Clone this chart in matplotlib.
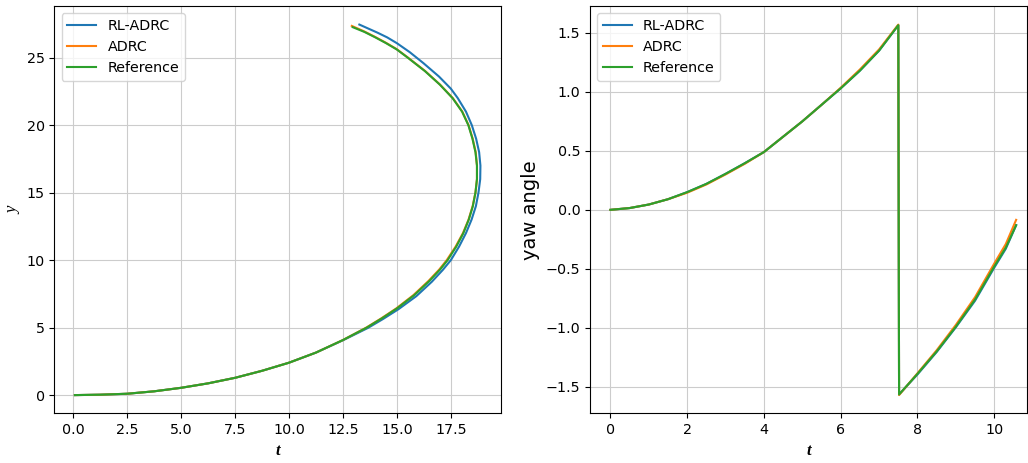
import matplotlib
matplotlib.use("Agg")
import matplotlib.pyplot as plt

# trajectory (x, y)
ref_x = [0.08, 1.25, 2.5, 3.75, 5.0, 6.25, 7.5, 8.75, 10.0, 11.25, 12.5, 13.6, 14.3, 15.0,
         15.8, 16.5, 17.0, 17.35, 17.75, 18.08, 18.33, 18.52, 18.64, 18.71, 18.71, 18.64,
         18.5, 18.31, 18.02, 17.58, 16.99, 16.3, 15.5, 15.0, 14.5, 14.0, 13.5, 12.95]
ref_y = [0.0, 0.03, 0.1, 0.28, 0.54, 0.87, 1.28, 1.8, 2.4, 3.15, 4.08, 5.0, 5.68, 6.42,
         7.4, 8.45, 9.3, 10.0, 11.0, 12.0, 13.0, 14.0, 15.0, 16.0, 17.0, 18.0,
         19.0, 20.0, 21.0, 22.0, 23.0, 24.0, 25.0, 25.6, 26.07, 26.5, 26.9, 27.26]

adrc_x = [0.08, 1.25, 2.5, 3.75, 5.0, 6.25, 7.5, 8.75, 10.0, 11.25, 12.5, 13.58, 14.27, 14.97,
          15.76, 16.46, 16.96, 17.31, 17.72, 18.06, 18.32, 18.51, 18.64, 18.71, 18.71, 18.65,
          18.51, 18.32, 18.03, 17.59, 17.0, 16.3, 15.49, 14.98, 14.47, 13.96, 13.45, 12.91]
adrc_y = [0.0, 0.03, 0.1, 0.28, 0.54, 0.87, 1.28, 1.8, 2.4, 3.15, 4.08, 5.0, 5.68, 6.42,
          7.4, 8.45, 9.3, 10.0, 11.0, 12.0, 13.0, 14.0, 15.0, 16.0, 17.0, 18.0,
          19.0, 20.0, 21.0, 22.0, 23.0, 24.02, 25.03, 25.64, 26.12, 26.56, 26.97, 27.35]

rl_x = [0.08, 1.25, 2.5, 3.75, 5.0, 6.25, 7.5, 8.75, 10.0, 11.25, 12.5, 13.65, 14.35, 15.07,
        15.9, 16.62, 17.13, 17.5, 17.88, 18.2, 18.46, 18.66, 18.78, 18.86, 18.87, 18.81,
        18.67, 18.47, 18.2, 17.82, 17.5, 16.95, 16.23, 15.6, 15.0, 14.55, 14.1, 13.26]
rl_y = [0.0, 0.03, 0.1, 0.28, 0.54, 0.87, 1.28, 1.8, 2.4, 3.15, 4.06, 4.97, 5.63, 6.36,
        7.33, 8.4, 9.28, 10.0, 11.0, 12.0, 13.0, 14.0, 15.0, 16.0, 17.0, 18.0,
        19.0, 20.0, 21.0, 22.0, 22.7, 23.6, 24.59, 25.4, 26.07, 26.5, 26.85, 27.45]

# yaw angle vs time
t = [0.0, 0.5, 1.0, 1.5, 2.0, 2.5, 3.0, 3.5, 4.0, 4.5, 5.0, 5.5, 6.0, 6.5, 7.0, 7.5,
     7.52, 8.0, 8.5, 9.0, 9.5, 10.0, 10.3, 10.57]
yaw_ref = [0.0, 0.015, 0.045, 0.09, 0.15, 0.22, 0.305, 0.395, 0.49, 0.62, 0.75, 0.89,
           1.03, 1.18, 1.35, 1.565, -1.565, -1.39, -1.2, -0.99, -0.76, -0.48, -0.32, -0.13]
yaw_adrc = [0.0, 0.015, 0.045, 0.09, 0.145, 0.215, 0.30, 0.39, 0.49, 0.62, 0.75, 0.89,
            1.035, 1.19, 1.36, 1.57, -1.57, -1.385, -1.19, -0.975, -0.74, -0.455, -0.29, -0.085]
yaw_rl = [0.0, 0.015, 0.045, 0.09, 0.15, 0.22, 0.305, 0.395, 0.49, 0.62, 0.75, 0.89,
          1.03, 1.18, 1.35, 1.565, -1.565, -1.395, -1.205, -0.995, -0.77, -0.49, -0.33, -0.13]

labels = ["RL-ADRC", "ADRC", "Reference"]

plt.rcParams["font.size"] = 10.3

fig = plt.figure(figsize=(10.28, 4.63), dpi=100)
ax1 = fig.add_axes([0.0530, 0.107, 0.4347, 0.8796])
ax2 = fig.add_axes([0.5740, 0.107, 0.4253, 0.8796])

ax1.plot(rl_x, rl_y, label=labels[0])
ax1.plot(adrc_x, adrc_y, label=labels[1])
ax1.plot(ref_x, ref_y, label=labels[2])
ax1.set_xlim(-0.866, 19.84)
ax1.set_ylim(-1.36, 28.81)
ax1.set_xticks([0, 2.5, 5, 7.5, 10, 12.5, 15, 17.5])
ax1.set_xlabel("t", family="Liberation Serif", style="italic", weight="bold", fontsize=12)
ax1.set_ylabel("y", family="Liberation Serif", style="italic", fontsize=12)
ax1.grid(True, color="#cccccc")
ax1.legend(loc="upper left")

ax2.plot(t, yaw_rl, label=labels[0])
ax2.plot(t, yaw_adrc, label=labels[1])
ax2.plot(t, yaw_ref, label=labels[2])
ax2.set_xlim(-0.53, 10.86)
ax2.set_ylim(-1.726, 1.726)
ax2.set_xticks([0, 2, 4, 6, 8, 10])
ax2.set_xlabel("t", family="Liberation Serif", style="italic", weight="bold", fontsize=12)
ax2.set_ylabel("yaw angle", fontsize=14)
ax2.grid(True, color="#cccccc")
ax2.legend(loc="upper left")

fig.savefig("out.png", dpi=100)
